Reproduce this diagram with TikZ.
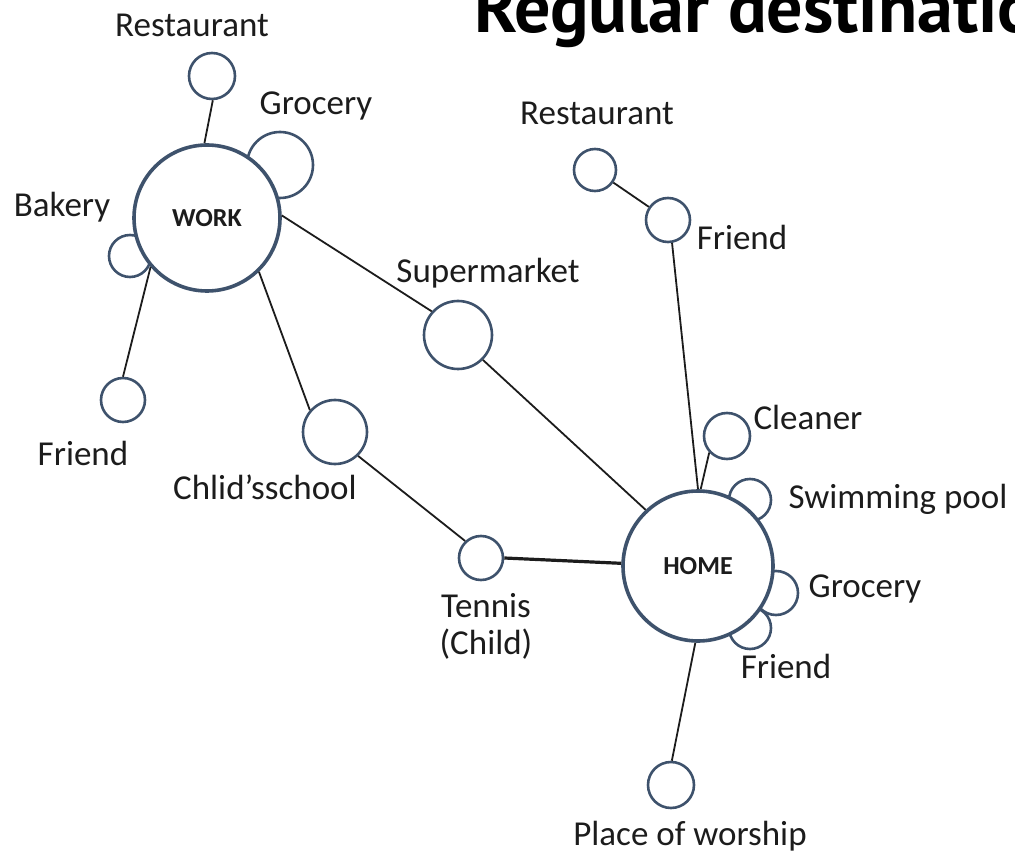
\documentclass[tikz,border=0pt]{standalone}
\usepackage{fontspec}
\setmainfont{Carlito}
\newfontfamily\titlefont{PT Sans}
\usepackage{tikz}
\usepackage{color}
\definecolor{ringblue}{RGB}{62, 82, 108}
\definecolor{inkgray}{RGB}{28, 28, 28}

\begin{document}
\begin{tikzpicture}[x=1pt, y=-1pt,
    place/.style={circle, draw=ringblue, line width=2.6pt, fill=white, inner sep=0pt},
    hub/.style={circle, draw=ringblue, line width=3.6pt, fill=white, inner sep=0pt,
                text=inkgray, font=\fontsize{26}{30}\selectfont\bfseries},
    lbl/.style={anchor=base, text=inkgray, inner sep=0pt, font=\fontsize{35}{37}\selectfont},
    link/.style={draw=inkgray, line width=1.8pt}]
            \useasboundingbox (0, 0) rectangle (1015, 858);
            \clip (0, 0) rectangle (1015, 858);
            % Title (runs off the page)
            \node[anchor=base west, inner sep=0pt, text=black,
                  font=\titlefont\bfseries\fontsize{72}{76}\selectfont] (title) at (474, 33) {Regular destinations};
            % WORK cluster
            \node[place, minimum size=66pt] (workgroc)   at (280, 165) {};
            \node[place, minimum size=42pt] (bakery)     at (130, 256) {};
            \node[hub,   minimum size=146pt] (work)      at (207, 218) {WORK};
            \node[place, minimum size=46pt] (workrest)   at (212,  76) {};
            \node[place, minimum size=44pt] (workfriend) at (123, 400) {};
            \node[place, minimum size=64pt] (school)     at (335, 432) {};
            \node[place, minimum size=68pt] (market)     at (458, 335) {};
            \node[place, minimum size=44pt] (tennis)     at (481, 558) {};
            % HOME cluster
            \node[place, minimum size=42pt] (pool)       at (750, 500) {};
            \node[place, minimum size=44pt] (homegroc)   at (776, 593) {};
            \node[place, minimum size=42pt] (homepal)    at (750, 628) {};
            \node[hub,   minimum size=150pt] (home)      at (698, 566) {HOME};
            \node[place, minimum size=42pt] (homerest)   at (595, 170) {};
            \node[place, minimum size=44pt] (homefriend) at (668, 220) {};
            \node[place, minimum size=46pt] (cleaner)    at (727, 436) {};
            \node[place, minimum size=46pt] (worship)    at (671, 785) {};
            % Links
            \draw[link] (workrest.272)   -- (work.92);
            \draw[link] (work.221)       -- (workfriend.90);
            \draw[link] (work.314)       -- (school.139);
            \draw[link] (work.2)         -- (market.138);
            \draw[link] (market.315)     -- (home.133);
            \draw[link] (school.314)     -- (tennis.133);
            \draw[link, line width=3.2pt] (tennis.east) -- (home.178);
            \draw[link] (homerest)       -- (homefriend);
            \draw[link] (homefriend.280) -- (home.90);
            \draw[link] (cleaner.223)    -- (home.88);
            \draw[link] (home.268)       -- (worship.88);
            % Labels
            \node[lbl] (workrestlbl)   at (192,  37) {Restaurant};
            \node[lbl] (workgroclbl)   at (316, 115) {Grocery};
            \node[lbl] (bakerylbl)     at ( 62, 217) {Bakery};
            \node[lbl] (workfriendlbl) at ( 83, 465) {Friend};
            \node[lbl] (schoollbl)     at (265, 500) {Chlid’sschool};
            \node[lbl] (marketlbl)     at (488, 283) {Supermarket};
            \node[lbl, anchor=north, align=center] (tennislbl) at (486, 593) {Tennis\\(Child)};
            \node[lbl] (homerestlbl)   at (597, 125) {Restaurant};
            \node[lbl] (homefriendlbl) at (742, 250) {Friend};
            \node[lbl] (cleanerlbl)    at (808, 430) {Cleaner};
            \node[lbl] (poollbl)       at (898, 508) {Swimming pool};
            \node[lbl] (homegroclbl)   at (865, 597) {Grocery};
            \node[lbl] (homepallbl)    at (786, 678) {Friend};
            \node[lbl] (worshiplbl)    at (690, 845) {Place of worship};
\end{tikzpicture}
\end{document}
